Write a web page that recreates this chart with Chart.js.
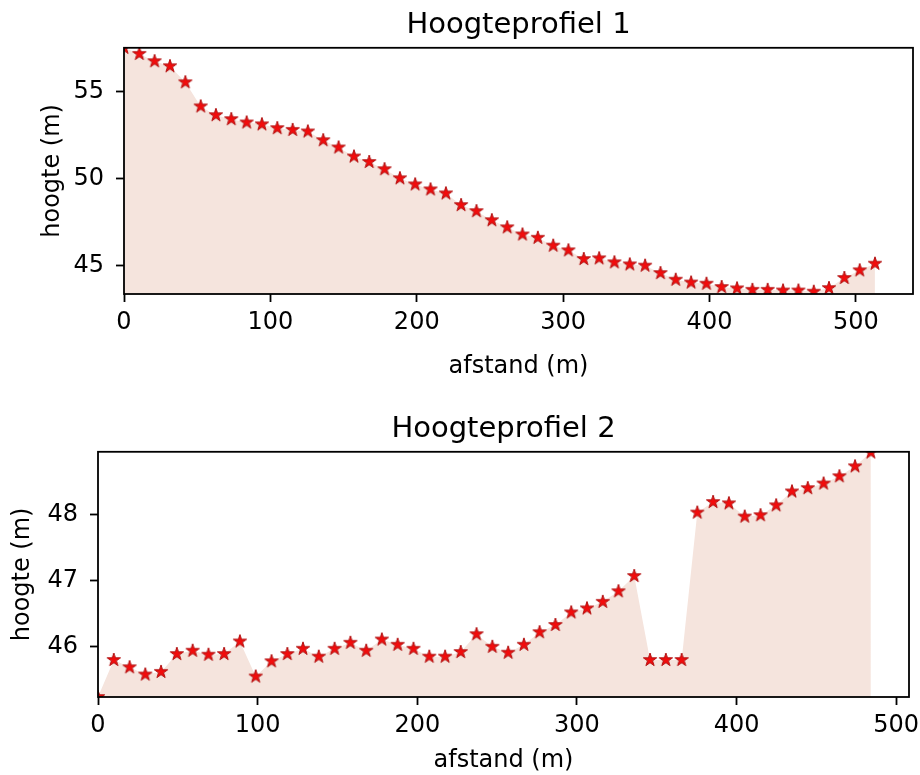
<!DOCTYPE html>
<html>
<head>
<meta charset="utf-8">
<script src="https://cdn.jsdelivr.net/npm/chart.js@4.4.1/dist/chart.umd.min.js"></script>
<style>
    html, body { margin: 0; padding: 0; background: #fff; }
    #wrap { position: relative; width: 920px; height: 775px; overflow: hidden; }
    canvas { position: absolute; left: 0; }
    #c1 { top: 0; }
    #c2 { top: 390px; }
</style>
</head>
<body>
<div id="wrap">
    <canvas id="c1" width="920" height="390"></canvas>
    <canvas id="c2" width="920" height="385"></canvas>
</div>
<script>
// profiel 1
const afstand1 = [0, 10.5, 20.9, 31.4, 41.9, 52.4, 62.8, 73.3, 83.8, 94.2,
    104.7, 115.2, 125.6, 136.1, 146.6, 157.1, 167.5, 178.0, 188.5, 198.9,
    209.4, 219.9, 230.3, 240.8, 251.3, 261.8, 272.2, 282.7, 293.2, 303.6,
    314.1, 324.6, 335.0, 345.5, 356.0, 366.5, 376.9, 387.4, 397.9, 408.3,
    418.8, 429.3, 439.7, 450.2, 460.7, 471.2, 481.6, 492.1, 502.6, 513.0];
const hoogte1 = [57.5, 57.15, 56.73, 56.44, 55.52, 54.13, 53.63, 53.40, 53.21, 53.10,
    52.88, 52.78, 52.69, 52.19, 51.77, 51.25, 50.94, 50.52, 50.00, 49.65,
    49.36, 49.13, 48.46, 48.11, 47.59, 47.18, 46.77, 46.58, 46.13, 45.86,
    45.36, 45.40, 45.17, 45.05, 44.98, 44.55, 44.17, 44.01, 43.94, 43.75,
    43.67, 43.59, 43.59, 43.55, 43.55, 43.48, 43.69, 44.27, 44.71, 45.09];

// profiel 2
const afstand2 = [0, 9.9, 19.8, 29.6, 39.5, 49.4, 59.3, 69.2, 79.0, 88.9,
    98.8, 108.7, 118.6, 128.4, 138.3, 148.2, 158.1, 168.0, 177.8, 187.7,
    197.6, 207.5, 217.4, 227.2, 237.1, 247.0, 256.9, 266.8, 276.6, 286.5,
    296.4, 306.3, 316.2, 326.0, 335.9, 345.8, 355.7, 365.6, 375.4, 385.3,
    395.2, 405.1, 415.0, 424.8, 434.7, 444.6, 454.5, 464.4, 474.2, 484.1];
const hoogte2 = [45.24, 45.80, 45.69, 45.58, 45.62, 45.89, 45.94, 45.88, 45.89, 46.08,
    45.55, 45.78, 45.89, 45.97, 45.85, 45.97, 46.06, 45.94, 46.11, 46.03,
    45.97, 45.85, 45.85, 45.92, 46.19, 46.00, 45.91, 46.03, 46.22, 46.33,
    46.52, 46.58, 46.68, 46.84, 47.07, 45.80, 45.80, 45.80, 48.03, 48.19,
    48.17, 47.97, 47.99, 48.14, 48.35, 48.40, 48.47, 48.58, 48.73, 48.94];

// tick waarden
const xTicks = [0, 100, 200, 300, 400, 500];
const yTicks1 = [45, 50, 55];
const yTicks2 = [46, 47, 48];

const titels = ['Hoogteprofiel 1', 'Hoogteprofiel 2'];
const xLabel = 'afstand (m)';
const yLabel = 'hoogte (m)';

(function () {
    'use strict';

    const FONT = 'DejaVu Sans';
    Chart.defaults.font.family = FONT;
    Chart.defaults.color = '#000';

    /**
     * matplotlib-achtige ster als pointStyle
     * @param {number} r
     * @return {HTMLCanvasElement}
     */
    const makeStar = function (r) {
        const c = document.createElement('canvas');
        const s = Math.ceil(r * 2 + 4);
        c.width = c.height = s;
        const g = c.getContext('2d');
        g.beginPath();
        for (let i = 0; i < 10; i++) {
            const rad = i % 2 ? r * 0.382 : r;
            const ang = -Math.PI / 2 + i * Math.PI / 5;
            g.lineTo(s / 2 + rad * Math.cos(ang), s / 2 + rad * Math.sin(ang));
        }
        g.closePath();
        g.fillStyle = '#f20c0c';
        g.fill();
        g.strokeStyle = '#b01212';
        g.lineWidth = 1;
        g.stroke();
        return c;
    };

    const star = makeStar(7);

    // zwarte kader om het plotvlak
    const frame = {
        id: 'frame',
        afterDatasetsDraw(chart) {
            const { ctx, chartArea: a } = chart;
            ctx.save();
            ctx.strokeStyle = '#000';
            ctx.lineWidth = 1.8;
            ctx.strokeRect(a.left, a.top, a.right - a.left, a.bottom - a.top);
            ctx.restore();
        }
    };

    const fixedTicks = values => scale => {
        scale.ticks = values.map(value => ({ value }));
    };

    const build = function (el, cfg) {
        const points = cfg.x.map((x, i) => ({ x, y: cfg.y[i] }));
        return new Chart(el, {
            type: 'line',
            data: {
                datasets: [{
                    data: points,
                    fill: 'start',
                    backgroundColor: '#f5e4dd',
                    borderColor: 'rgba(0,0,0,0)',
                    borderWidth: 0,
                    pointStyle: star,
                    pointRadius: 7,
                    tension: 0
                }]
            },
            options: {
                responsive: false,
                animation: false,
                events: [],
                layout: { padding: { left: 0, right: cfg.padRight, top: 0, bottom: 0 } },
                plugins: {
                    legend: { display: false },
                    tooltip: { enabled: false },
                    title: {
                        display: true,
                        text: cfg.title,
                        fullSize: false,
                        color: '#000',
                        font: { family: FONT, size: 29, weight: 'normal' },
                        padding: cfg.titlePad
                    }
                },
                scales: {
                    x: {
                        type: 'linear',
                        min: 0,
                        max: cfg.xMax,
                        border: { display: false },
                        grid: { drawOnChartArea: false, tickLength: 8, tickWidth: 1.8, tickColor: '#000' },
                        ticks: { maxRotation: 0, autoSkip: false, padding: 6,
                            font: { size: 24 }, color: '#000' },
                        afterBuildTicks: fixedTicks(xTicks),
                        title: { display: true, text: xLabel, font: { size: 24 }, color: '#000',
                            padding: { top: 0, bottom: cfg.xTitleBottom } },
                        afterFit(scale) {
                            scale.height = cfg.xHeight;
                            scale.paddingLeft = 0;
                            scale.paddingRight = 0;
                        }
                    },
                    y: {
                        min: cfg.yMin,
                        max: cfg.yMax,
                        border: { display: false },
                        grid: { drawOnChartArea: false, tickLength: 8, tickWidth: 1.8, tickColor: '#000' },
                        ticks: { padding: 12, font: { size: 24 }, color: '#000' },
                        afterBuildTicks: fixedTicks(cfg.yTicks),
                        title: { display: true, text: yLabel, font: { size: 24 }, color: '#000',
                            padding: { top: cfg.yTitleTop, bottom: 0 } },
                        afterFit(scale) {
                            scale.width = cfg.yWidth;
                            scale.paddingTop = 0;
                            scale.paddingBottom = 0;
                        }
                    }
                }
            },
            plugins: [frame]
        });
    };

    build(document.getElementById('c1'), {
        x: afstand1, y: hoogte1, title: titels[0], yTicks: yTicks1,
        xMax: 539, yMin: 43.35, yMax: 57.5,
        padRight: 2, yWidth: 124, xHeight: 96,
        titlePad: { top: 8, bottom: 5 }, xTitleBottom: 9, yTitleTop: 38
    });

    build(document.getElementById('c2'), {
        x: afstand2, y: hoogte2, title: titels[1], yTicks: yTicks2,
        xMax: 508, yMin: 45.24, yMax: 48.95,
        padRight: 11, yWidth: 98, xHeight: 78,
        titlePad: { top: 22, bottom: 5 }, xTitleBottom: 0, yTitleTop: 8
    });
})();
</script>
</body>
</html>
